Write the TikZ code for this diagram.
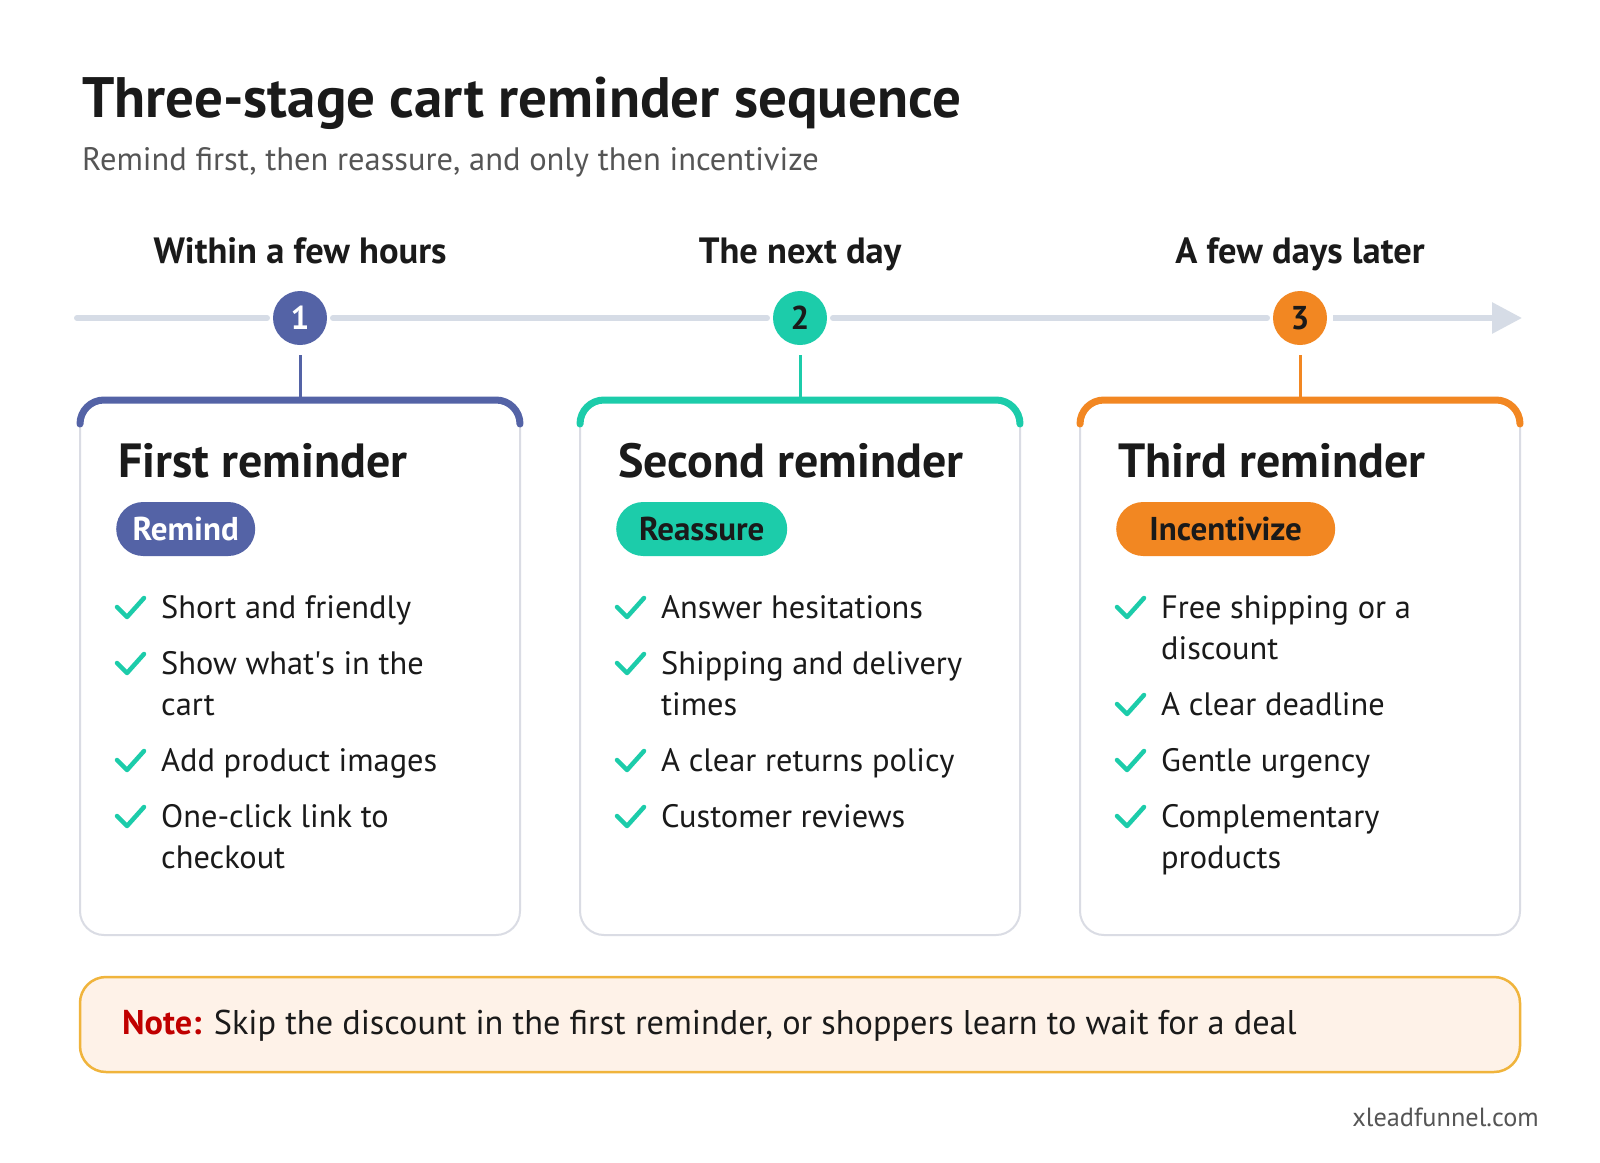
\documentclass[tikz,border=0pt]{standalone}
\usepackage{fontspec}
\setmainfont{PT Sans}
\usetikzlibrary{arrows.meta}
\definecolor{ink}{RGB}{26,26,26}
\definecolor{subgray}{RGB}{85,85,85}
\definecolor{axisgray}{RGB}{214,220,230}
\definecolor{cardgray}{RGB}{218,220,228}
\definecolor{stone}{RGB}{84,99,166}
\definecolor{mint}{RGB}{28,204,170}
\definecolor{amber}{RGB}{242,135,34}
\definecolor{notefill}{RGB}{254,242,232}
\definecolor{noteline}{RGB}{240,180,60}
\definecolor{notered}{RGB}{192,0,0}
% lines of one check item, the first line on the baseline
\newcommand\itemlines[1]{\begin{tabular}[t]{@{}l@{}}#1\end{tabular}}

\begin{document}
\begin{tikzpicture}[
    x=1pt, y=-1pt,
    >={Triangle[length=30pt,width=30pt]},
    axis/.style={draw=axisgray, line width=6pt, line cap=round},
    stage/.style={circle, minimum size=54pt, inner sep=0pt, outer sep=6pt, font=\fontsize{33}{33}\selectfont\bfseries},
    when/.style={anchor=base, inner sep=0pt, text=ink, font=\fontsize{36.5}{36.5}\selectfont\bfseries},
    stem/.style={line width=3pt, shorten <=4pt},
    card/.style={draw=cardgray, fill=white, line width=2pt, rounded corners=24pt},
    topbar/.style={line width=7pt, line cap=round, rounded corners=24pt},
    head/.style={anchor=base west, inner sep=0pt, text=ink, font=\fontsize{48}{48}\selectfont\bfseries},
    pill/.style={anchor=west, rounded corners=27pt, minimum height=54pt, inner xsep=0pt, inner ysep=0pt, font=\fontsize{33}{33}\selectfont\bfseries},
    item/.style={anchor=base west, inner sep=0pt, text=ink, font=\fontsize{32.4}{41}\selectfont},
    tick/.style={draw=mint, line width=4.5pt, line cap=round, line join=round},
    notebox/.style={draw=noteline, fill=notefill, line width=2.5pt, rounded corners=26pt},
  ]

  \useasboundingbox[fill=white] (0,0) rectangle (1600,1162);

  % heading
  \node[anchor=base west, inner sep=0pt, text=ink, font=\fontsize{57}{57}\selectfont\bfseries] (title) at (82,117) {Three-stage cart reminder sequence};
  \node[anchor=base west, inner sep=0pt, text=subgray, font=\fontsize{32.5}{32.5}\selectfont] (subtitle) at (82,170) {Remind first, then reassure, and only then incentivize};

  % the time axis
  \coordinate (ax0) at (77,318);
  \coordinate (ax1) at (1522,318);
  \node[stage, fill=stone, text=white] (s1) at (300,318) {1};
  \node[stage, fill=mint, text=ink]    (s2) at (800,318) {2};
  \node[stage, fill=amber, text=ink]   (s3) at (1300,318) {3};
  \draw[axis] (ax0) -- (s1);
  \draw[axis] (s1) -- (s2);
  \draw[axis] (s2) -- (s3);
  \draw[axis, ->, line cap=butt] (s3) -- (ax1);

  \node[when] (w1) at (300,263) {Within a few hours};
  \node[when] (w2) at (800,263) {The next day};
  \node[when] (w3) at (1300,263) {A few days later};

  % the three cards
  \draw[card] (80,400) rectangle (520,935);
  \draw[card] (580,400) rectangle (1020,935);
  \draw[card] (1080,400) rectangle (1520,935);
  \draw[topbar, draw=stone] (80,424) -- (80,400) -- (520,400) -- (520,424);
  \draw[topbar, draw=mint]  (580,424) -- (580,400) -- (1020,400) -- (1020,424);
  \draw[topbar, draw=amber] (1080,424) -- (1080,400) -- (1520,400) -- (1520,424);
  \coordinate (t1) at (300,400);
  \coordinate (t2) at (800,400);
  \coordinate (t3) at (1300,400);
  \draw[stem, draw=stone] (s1) -- (t1);
  \draw[stem, draw=mint]  (s2) -- (t2);
  \draw[stem, draw=amber] (s3) -- (t3);

  % first card
  \node[head] (h1) at (118,477) {First reminder};
  \node[pill, fill=stone, text=white, minimum width=139pt] (p1) at (116,529) {Remind};
  \node[item] (a1) at (161,618) {Short and friendly};
  \node[item] (a2) at (161,674) {\itemlines{Show what\textquotesingle s in the\\cart}};
  \node[item] (a3) at (161,771) {Add product images};
  \node[item] (a4) at (161,827) {\itemlines{One-click link to\\checkout}};

  % second card
  \node[head] (h2) at (618,477) {Second reminder};
  \node[pill, fill=mint, text=ink, minimum width=171pt] (p2) at (616,529) {Reassure};
  \node[item] (b1) at (661,618) {Answer hesitations};
  \node[item] (b2) at (661,674) {\itemlines{Shipping and delivery\\times}};
  \node[item] (b3) at (661,771) {A clear returns policy};
  \node[item] (b4) at (661,827) {Customer reviews};

  % third card
  \node[head] (h3) at (1118,477) {Third reminder};
  \node[pill, fill=amber, text=ink, minimum width=219pt] (p3) at (1116,529) {Incentivize};
  \node[item] (c1) at (1161,618) {\itemlines{Free shipping or a\\discount}};
  \node[item] (c2) at (1161,715) {A clear deadline};
  \node[item] (c3) at (1161,771) {Gentle urgency};
  \node[item] (c4) at (1161,827) {\itemlines{Complementary\\products}};

  \foreach \n in {a1,a2,a3,a4,b1,b2,b3,b4,c1,c2,c3,c4}
    \draw[tick] (\n.base west) ++(-44,-11) -- ++(10,10) -- ++(17,-19);

  % note and source
  \draw[notebox] (80,977) rectangle (1520,1072);
  \node[anchor=base west, inner sep=0pt, text=ink, font=\fontsize{34.3}{34.3}\selectfont] (note) at (122,1034) {\textcolor{notered}{\bfseries Note:} Skip the discount in the first reminder, or shoppers learn to wait for a deal};
  \node[anchor=base east, inner sep=0pt, text=subgray, font=\fontsize{26.3}{26.3}\selectfont] (src) at (1539,1126) {xleadfunnel.com};

\end{tikzpicture}
\end{document}
